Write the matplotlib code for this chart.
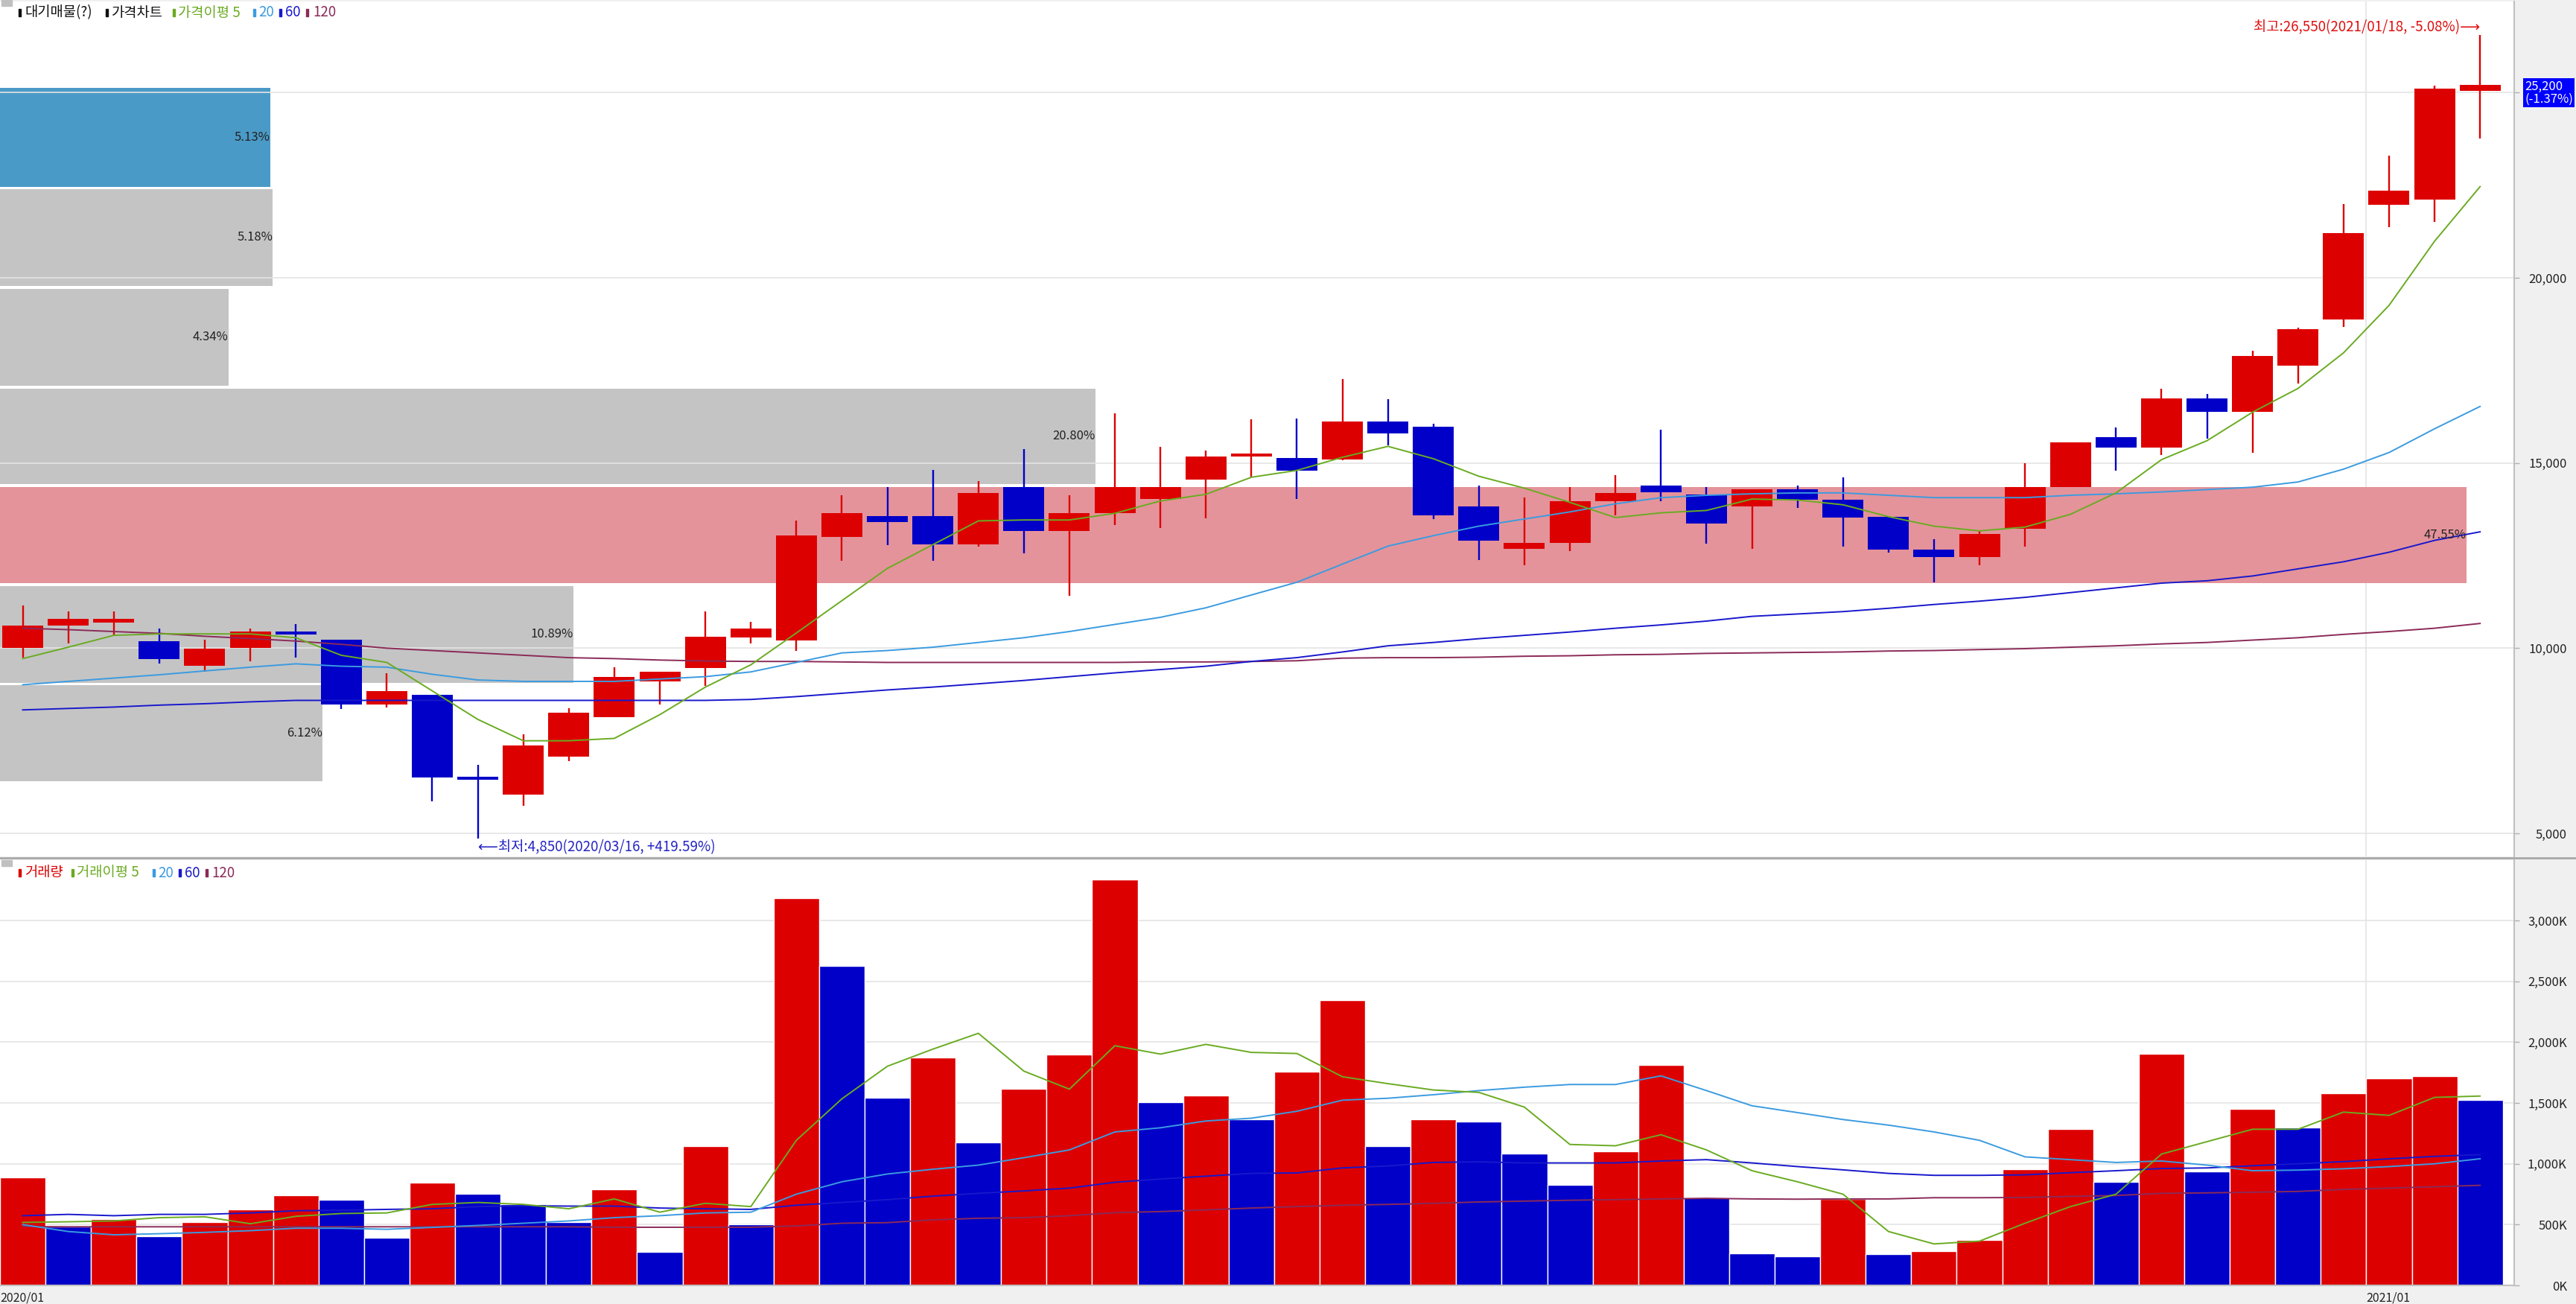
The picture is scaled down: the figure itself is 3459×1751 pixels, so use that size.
import matplotlib
matplotlib.use("Agg")
import numpy as np
import matplotlib.pyplot as plt
from matplotlib.patches import Rectangle
from matplotlib.lines import Line2D

plt.rcParams['font.family'] = ['Noto Sans CJK KR', 'DejaVu Sans']

# weekly candles, 2020/01 .. 2021/01 (55 weeks)
opens = [10000, 10615, 10692, 10192, 9526, 10000, 10449, 10231, 8487, 8744,
         6526, 6051, 7077, 8128, 9103, 9462, 10282, 10218, 13013, 13564,
         13564, 12795, 14359, 13167, 13654, 14038, 14551, 15166, 15141, 15090,
         16115, 15987, 13820, 12679, 12833, 13974, 14384, 14154, 13833, 14295,
         14000, 13551, 12654, 12461, 13218, 14346, 15692, 15423, 16743, 16384,
         17628, 18884, 21961, 22102, 25050]
highs = [11154, 11000, 11000, 10538, 10231, 10538, 10641, 10231, 9321, 8744,
         6859, 7667, 8385, 9487, 9359, 11000, 10705, 13436, 14128, 14359,
         14808, 14513, 15384, 14128, 16333, 15436, 15333, 16179, 16192, 17269,
         16718, 16051, 14384, 14064, 14359, 14667, 15897, 14359, 14295, 14384,
         14603, 13551, 12949, 13192, 15000, 15564, 15961, 17013, 16872, 18038,
         18654, 21987, 23295, 25179, 26550]
lows = [9744, 10128, 10320, 9577, 9359, 9641, 9744, 8359, 8397, 5872,
        4850, 5744, 6949, 8128, 8487, 8974, 10128, 9936, 12359, 12782,
        12359, 12743, 12564, 11410, 13333, 13243, 13500, 14615, 14038, 15064,
        15474, 13487, 12372, 12231, 12628, 13577, 13961, 12820, 12679, 13782,
        12743, 12590, 11782, 12231, 12743, 14346, 14795, 15218, 15667, 15269,
        17141, 18679, 21359, 21500, 23769]
closes = [10603, 10795, 10782, 9705, 9987, 10449, 10372, 8487, 8846, 6500,
          6449, 7372, 8256, 9231, 9359, 10308, 10538, 13038, 13654, 13410,
          12795, 14192, 13167, 13654, 14359, 14359, 15166, 15256, 14795, 16115,
          15795, 13590, 12897, 12846, 13974, 14192, 14218, 13372, 14295, 14000,
          13526, 12654, 12461, 13090, 14359, 15564, 15410, 16743, 16384, 17884,
          18615, 21205, 22346, 25100, 25200]

ma5 = [9718, 10026, 10346, 10385, 10385, 10385, 10282, 9808, 9615, 8846,
       8077, 7500, 7500, 7564, 8205, 8949, 9551, 10410, 11282, 12154,
       12795, 13436, 13461, 13461, 13641, 13974, 14154, 14615, 14800, 15154,
       15449, 15115, 14641, 14320, 13936, 13526, 13654, 13718, 14026, 14000,
       13872, 13551, 13295, 13167, 13269, 13615, 14192, 15090, 15602, 16371,
       17013, 17974, 19256, 20987, 22461]
ma20 = [9013, 9103, 9192, 9282, 9385, 9487, 9577, 9513, 9487, 9295,
        9141, 9103, 9103, 9103, 9167, 9231, 9359, 9615, 9872, 9936,
        10026, 10154, 10282, 10449, 10641, 10833, 11090, 11436, 11780, 12269,
        12756, 13038, 13295, 13487, 13679, 13897, 14064, 14128, 14167, 14192,
        14192, 14128, 14064, 14064, 14064, 14128, 14167, 14218, 14282, 14346,
        14487, 14833, 15282, 15923, 16526]
ma60 = [8333, 8372, 8410, 8462, 8500, 8551, 8590, 8590, 8590, 8590,
        8590, 8590, 8590, 8590, 8590, 8590, 8615, 8692, 8782, 8872,
        8949, 9038, 9128, 9231, 9333, 9423, 9513, 9641, 9745, 9897,
        10064, 10154, 10256, 10346, 10436, 10538, 10628, 10731, 10859, 10923,
        10987, 11077, 11179, 11269, 11372, 11500, 11628, 11756, 11820, 11949,
        12141, 12333, 12590, 12910, 13141]
ma120 = [10538, 10500, 10449, 10400, 10321, 10260, 10192, 10103, 10000, 9936,
         9872, 9808, 9744, 9718, 9679, 9654, 9641, 9641, 9628, 9615,
         9615, 9615, 9615, 9615, 9615, 9628, 9628, 9640, 9660, 9731,
         9744, 9744, 9756, 9782, 9795, 9821, 9833, 9859, 9872, 9885,
         9897, 9923, 9936, 9962, 9987, 10026, 10064, 10115, 10154, 10218,
         10282, 10372, 10449, 10538, 10667]

# volume (thousand shares)
volume = [891, 484, 545, 402, 523, 625, 743, 705, 393, 845,
          752, 670, 523, 789, 273, 1148, 500, 3187, 2625, 1546,
          1875, 1177, 1618, 1898, 3339, 1509, 1562, 1368, 1757, 2348,
          1148, 1368, 1350, 1087, 825, 1102, 1812, 723, 264, 236,
          711, 255, 282, 375, 955, 1287, 852, 1905, 936, 1452,
          1296, 1582, 1702, 1718, 1525]
vma5 = [518, 523, 530, 557, 564, 507, 568, 591, 596, 666,
        682, 666, 630, 711, 602, 675, 648, 1193, 1534, 1802,
        1943, 2073, 1762, 1614, 1971, 1902, 1982, 1916, 1907, 1716,
        1659, 1607, 1587, 1466, 1159, 1148, 1239, 1114, 943, 852,
        750, 443, 341, 364, 511, 648, 750, 1080, 1182, 1284,
        1284, 1425, 1398, 1546, 1557]
vma20 = [500, 443, 416, 425, 436, 450, 470, 470, 461, 477,
         493, 511, 530, 557, 573, 596, 602, 750, 852, 916,
         955, 989, 1050, 1114, 1262, 1296, 1352, 1375, 1432, 1523,
         1539, 1568, 1602, 1630, 1652, 1652, 1723, 1602, 1477, 1421,
         1364, 1318, 1262, 1193, 1057, 1034, 1011, 1023, 989, 943,
         948, 959, 977, 1000, 1041]
vma60 = [573, 584, 573, 584, 584, 596, 614, 618, 625, 630,
         648, 655, 652, 652, 636, 630, 625, 659, 682, 705,
         734, 757, 777, 800, 848, 875, 898, 921, 925, 966,
         982, 1011, 1016, 1007, 1007, 1007, 1023, 1034, 1007, 977,
         950, 921, 905, 905, 909, 927, 943, 961, 966, 984,
         1000, 1018, 1041, 1061, 1075]
vma120 = [484, 482, 482, 482, 482, 482, 482, 482, 482, 482,
          482, 482, 482, 478, 478, 478, 478, 489, 511, 516,
          539, 552, 557, 573, 598, 607, 621, 636, 648, 659,
          666, 675, 686, 693, 700, 705, 711, 716, 711, 709,
          711, 711, 721, 721, 723, 732, 739, 757, 761, 766,
          773, 789, 800, 811, 823]

# price-volume profile (대기매물)
profile_lo = [6410, 9064, 11756, 14423, 17090, 19782, 22460]
profile_hi = [9000, 11679, 14359, 17013, 19705, 22397, 25120]
profile_pct = [6.12, 10.89, 47.55, 20.80, 4.34, 5.18, 5.13]

x_labels = ['2020/01', '2021/01']
x_label_pos = [-0.5, 51.5]

RED = '#dd0000'
BLUE = '#0000c8'
C5, C20, C60, C120 = '#6aab22', '#3b9be0', '#1818cc', '#8b2a58'
GRID = '#e4e4e4'

W, H = 3459, 1751
fig = plt.figure(figsize=(W / 100, H / 100), dpi=100, facecolor='#f0f0f0')


def fx(px):
    return px / W


def fy(py):
    return 1 - py / H


ax = fig.add_axes([0, fy(1150), fx(3376), (1150 - 2) / H])
axv = fig.add_axes([0, fy(1726), fx(3376), (1726 - 1155) / H])

idx = np.arange(len(closes))
o, h, l, c = map(np.array, (opens, highs, lows, closes))
up = c >= o
ccol = np.where(up, RED, BLUE)

# ---- price panel ----
ax.set_facecolor('white')
ax.set_xlim(-0.5, 54.75)
ax.set_ylim(4377, 27460)

# profile boxes (longest box capped short of the right edge)
pct = np.array(profile_pct)
lo, hi = np.array(profile_lo), np.array(profile_hi)
centers = (lo + hi) / 2
cur = np.argmin(np.abs(centers - closes[-1]))
pcols = ['#c4c4c4'] * len(pct)
pcols[int(np.argmax(pct))] = '#e4939a'
pcols[int(cur)] = '#4a9ac7'
widths = np.minimum(pct * 1.157, 54.2)
ax.barh(centers, widths, height=hi - lo, left=-0.5, color=pcols, zorder=1)
for cy, wd, p in zip(centers, widths, pct):
    ax.text(-0.5 + wd, cy, f'{p:.2f}%', ha='right', va='center',
            fontsize=12, color='#222222', zorder=6)

ax.vlines(idx, l, h, colors=ccol, lw=1.7, zorder=3)
body = np.maximum(np.abs(c - o), 70)
ax.bar(idx, body, bottom=np.minimum(o, c), width=0.9, color=ccol, zorder=4)

for s, col in ((ma120, C120), (ma60, C60), (ma20, C20), (ma5, C5)):
    ax.plot(idx, s, color=col, lw=1.4, zorder=5)

ax.set_yticks([5000, 10000, 15000, 20000, 25000])
ax.set_yticklabels(['5,000', '10,000', '15,000', '20,000', ''])
ax.grid(axis='y', color=GRID, lw=1.2, zorder=0)
ax.axvline(51.5, color=GRID, lw=1.2, zorder=0)
ax.set_xticks([])

hi_i = int(np.argmax(h))
ax.text(hi_i, 26760, '최고:26,550(2021/01/18, -5.08%)⟶', color='#e01010',
        ha='right', va='center', fontsize=13.5, zorder=7)
lo_i = int(np.argmin(l))
ax.text(lo_i, 4620, '⟵최저:4,850(2020/03/16, +419.59%)', color='#2424c4',
        ha='left', va='center', fontsize=13.5, zorder=7)

# ---- volume panel ----
axv.set_facecolor('white')
axv.set_xlim(-0.5, 54.75)
axv.set_ylim(0, 3497)
vol = np.array(volume)
vup = np.r_[True, vol[1:] >= vol[:-1]]
axv.bar(idx, vol, width=1.0, color=np.where(vup, RED, BLUE),
        edgecolor='white', lw=1.0, zorder=2)
for s, col in ((vma120, C120), (vma60, C60), (vma20, C20), (vma5, C5)):
    axv.plot(idx, s, color=col, lw=1.4, zorder=3)
vt = np.arange(0, 3001, 500)
axv.set_yticks(vt)
axv.set_yticklabels([f'{v:,}K' for v in vt])
axv.grid(axis='y', color=GRID, lw=1.2, zorder=0)
axv.axvline(51.5, color=GRID, lw=1.2, zorder=0)
axv.set_xticks(x_label_pos)
axv.set_xticklabels(x_labels)
axv.tick_params(axis='x', length=0, pad=6, labelsize=11.5, colors='#222222')
for t in axv.get_xticklabels():
    t.set_ha('left')

for a in (ax, axv):
    a.yaxis.tick_right()
    a.tick_params(axis='y', length=5, width=1, color='#b0b0b0', pad=46,
                  labelsize=12, labelcolor='#222222')
    for t in a.get_yticklabels():
        t.set_ha('right')
    for sp in ('top', 'left'):
        a.spines[sp].set_visible(False)
    a.spines['right'].set_color('#c0c0c0')
    a.spines['right'].set_linewidth(1.5)
    a.spines['bottom'].set_color('#c0c0c0')
    a.spines['bottom'].set_linewidth(1.5)
ax.spines['bottom'].set_visible(False)

# separator between panels
fig.add_artist(Line2D([0, 1], [fy(1152), fy(1152)], color='#a8a8a8', lw=2))

# current price box
fig.text(fx(3390), fy(125), f'{closes[-1]:,}\n(-1.37%)', color='white',
         fontsize=12, ha='left', va='center', linespacing=1.0,
         bbox=dict(boxstyle='square,pad=0.15', fc='#0000ff', ec='none'))


# legends
def legend(items, yc):
    fig.patches.append(Rectangle((fx(2), fy(yc - 9)), fx(14), 8 / H,
                                 color='#c0c0c0', transform=fig.transFigure))
    for mx, tx, txt, col in items:
        fig.patches.append(Rectangle((fx(mx), fy(yc + 5)), fx(3), 10 / H,
                                     color=col, transform=fig.transFigure))
        fig.text(fx(tx), fy(yc), txt, color=col, fontsize=13.5,
                 ha='left', va='center')


legend([(25, 33, '대기매물(?)', '#111111'),
        (142, 150, '가격차트', '#111111'),
        (232, 239, '가격이평 5', C5),
        (340, 347, '20', C20),
        (375, 383, '60', C60),
        (411, 420, '120', C120)], 17)
legend([(25, 33, '거래량', RED),
        (96, 103, '거래이평 5', C5),
        (205, 212, '20', C20),
        (240, 248, '60', C60),
        (276, 284, '120', C120)], 1172)

fig.savefig('out.png', dpi=100, facecolor=fig.get_facecolor())
